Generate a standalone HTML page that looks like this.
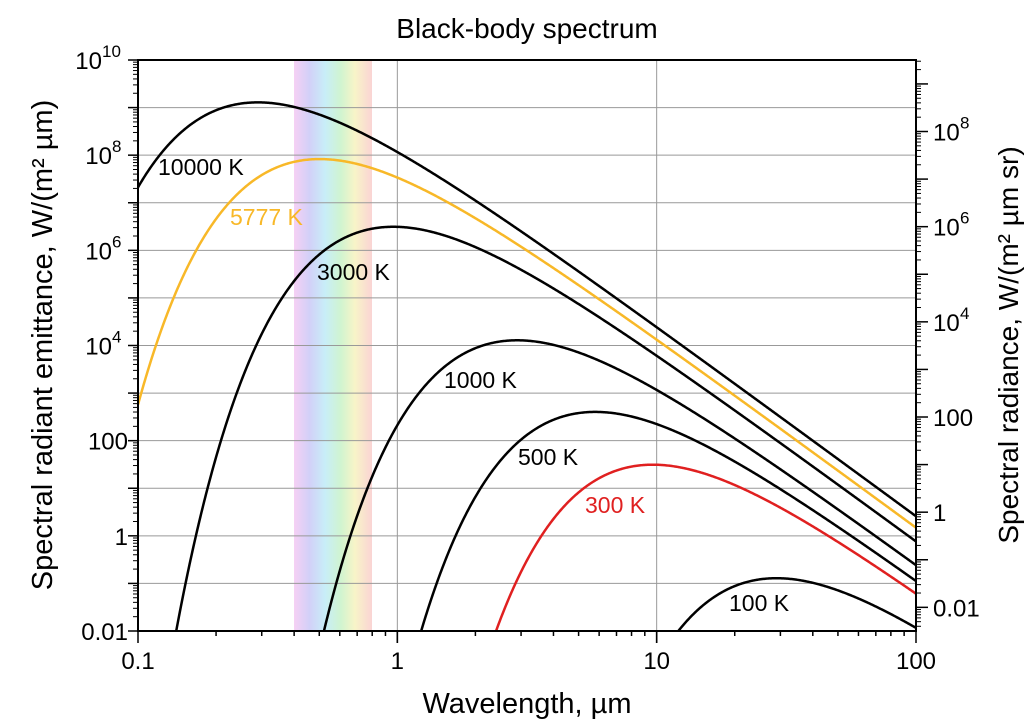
<!DOCTYPE html>
<html><head><meta charset="utf-8"><style>
body{margin:0;background:#fff;}
svg text{font-family:"Liberation Sans",sans-serif;}
</style></head><body>
<svg id="s" width="1030" height="722" xmlns="http://www.w3.org/2000/svg">
<defs>
<linearGradient id="vis" x1="0" x2="1" y1="0" y2="0">
<stop offset="0" stop-color="#f6d0f4"/>
<stop offset="0.2" stop-color="#d2d0f8"/>
<stop offset="0.4" stop-color="#c8eef8"/>
<stop offset="0.6" stop-color="#d0f4d0"/>
<stop offset="0.78" stop-color="#f8f4c8"/>
<stop offset="1" stop-color="#fad4d4"/>
</linearGradient>
<clipPath id="cp"><rect x="138" y="60" width="778" height="571"/></clipPath>
</defs>
<rect x="294" y="60" width="78" height="571" fill="url(#vis)"/>
<g id="grid" stroke="#999" stroke-width="1"></g>
<g id="curves" clip-path="url(#cp)" fill="none" stroke-width="2.5"></g>
<rect x="138" y="60" width="778" height="571" fill="none" stroke="#000" stroke-width="2"/>
<g id="ticks" stroke="#000" stroke-width="1.5"></g>
<g id="labels" font-size="24"></g>
<text x="527" y="38" font-size="28" text-anchor="middle">Black-body spectrum</text>
<text x="527" y="713" font-size="29" text-anchor="middle">Wavelength, µm</text>
<text transform="translate(52,345) rotate(-90)" font-size="29" text-anchor="middle">Spectral radiant emittance, W/(m² µm)</text>
<text transform="translate(1018,345) rotate(-90)" font-size="28" text-anchor="middle">Spectral radiance, W/(m² µm sr)</text>
<g font-size="23">
<text x="158" y="175">10000 K</text>
<text x="230" y="225" fill="#f8b828">5777 K</text>
<text x="317" y="280">3000 K</text>
<text x="444" y="388">1000 K</text>
<text x="518" y="465">500 K</text>
<text x="585" y="513" fill="#e02020">300 K</text>
<text x="729" y="611">100 K</text>
</g>
</svg>
<script>
var NS="http://www.w3.org/2000/svg";
var x0=138,x1=916,y0=60,y1=631;
function X(l){return x0+(Math.log10(l)+1)*(x1-x0)/3;}
function Y(v){return y0+(10-Math.log10(v))*(y1-y0)/12;}
function el(p,t,a,txt){var e=document.createElementNS(NS,t);for(var k in a)e.setAttribute(k,a[k]);if(txt!==undefined)e.textContent=txt;document.getElementById(p).appendChild(e);return e;}
for(var d=-1;d<=9;d++){var y=Y(Math.pow(10,d));el("grid","line",{x1:x0,x2:x1,y1:y,y2:y});}
[1,10].forEach(function(l){el("grid","line",{x1:X(l),x2:X(l),y1:y0,y2:y1});});
for(var e=-1;e<2;e++)for(var m=1;m<=10;m++){var l=m*Math.pow(10,e),x=X(l),len=(m==1||m==10)?12:5;
 el("ticks","line",{x1:x,x2:x,y1:y1,y2:y1+len});}
[[0.1,"0.1"],[1,"1"],[10,"10"],[100,"100"]].forEach(function(a){el("labels","text",{x:X(a[0]),y:669,"text-anchor":"middle"},a[1]);});
for(var d=-2;d<=10;d++){var y=Y(Math.pow(10,d));el("ticks","line",{x1:x0,x2:x0-10,y1:y,y2:y});
 if(d<10)for(var m=2;m<=9;m++){var yy=Y(m*Math.pow(10,d));el("ticks","line",{x1:x0,x2:x0-5,y1:yy,y2:yy,"stroke-width":1});}}
[[10,"10","10"],[8,"10","8"],[6,"10","6"],[4,"10","4"]].forEach(function(a){var y=Y(Math.pow(10,a[0]));
 var xr=a[0]==10?102:112;
 el("labels","text",{x:xr,y:y+9,"text-anchor":"end"},a[1]);
 el("labels","text",{x:xr,y:y-3,"font-size":"17"},a[2]);});
[[2,"100"],[0,"1"],[-2,"0.01"]].forEach(function(a){el("labels","text",{x:128,y:Y(Math.pow(10,a[0]))+9,"text-anchor":"end"},a[1]);});
for(var d=-3;d<=9;d++){var y=Y(Math.pow(10,d)*Math.PI);
 if(y>=y0&&y<=y1)el("ticks","line",{x1:x1,x2:x1+12,y1:y,y2:y});
 for(var m=2;m<=9;m++){var yy=Y(m*Math.pow(10,d)*Math.PI);if(yy>=y0&&yy<=y1)el("ticks","line",{x1:x1,x2:x1+5,y1:yy,y2:yy,"stroke-width":1});}}
[[8,"10","8"],[6,"10","6"],[4,"10","4"]].forEach(function(a){var y=Y(Math.pow(10,a[0])*Math.PI);
 el("labels","text",{x:933,y:y+9},a[1]);el("labels","text",{x:960,y:y-3,"font-size":"17"},a[2]);});
[[2,"100"],[0,"1"],[-2,"0.01"]].forEach(function(a){el("labels","text",{x:933,y:Y(Math.pow(10,a[0])*Math.PI)+9},a[1]);});
function M(l,T){return 3.7418e8/Math.pow(l,5)/(Math.exp(14388/(l*T))-1);}
[[10000,"#000"],[5777,"#f8b828"],[3000,"#000"],[1000,"#000"],[500,"#000"],[300,"#e02020"],[100,"#000"]].forEach(function(c){
 var d="",first=true;
 for(var i=0;i<=800;i++){var l=Math.pow(10,-1+3*i/800),v=M(l,c[0]);if(!(v>1e-4))continue;var y=Y(v);
  d+=(first?"M":"L")+X(l).toFixed(2)+","+y.toFixed(2);first=false;}
 el("curves","path",{d:d,stroke:c[1]});
});
</script>
</body></html>
